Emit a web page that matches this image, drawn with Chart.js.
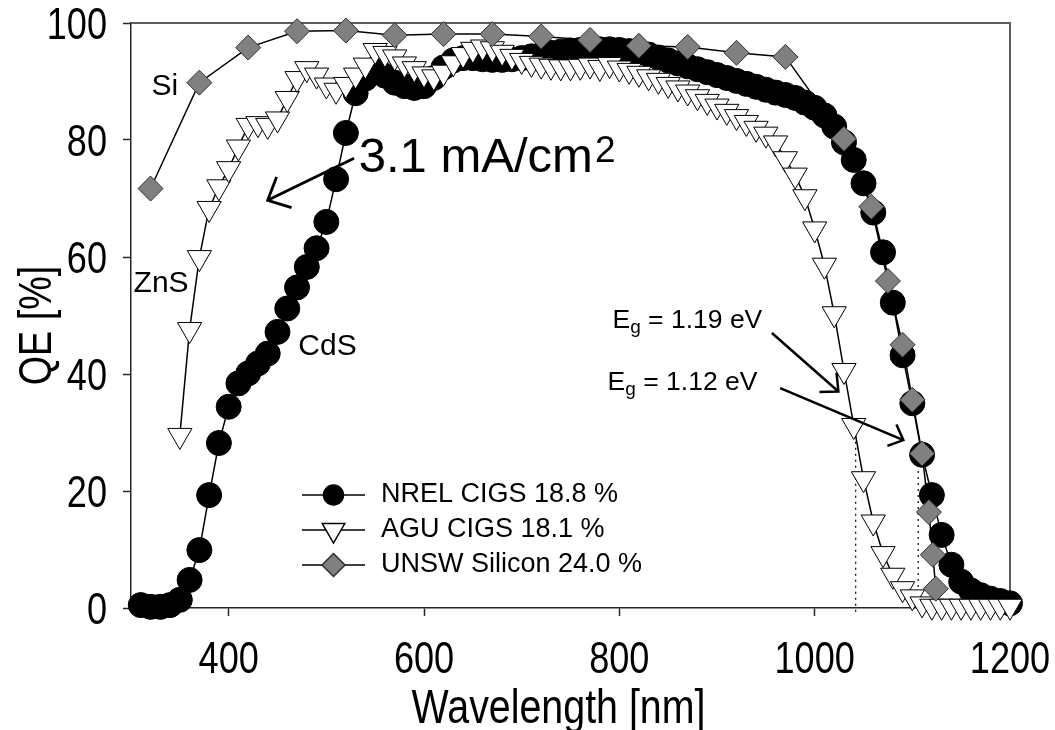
<!DOCTYPE html>
<html>
<head>
<meta charset="utf-8">
<title>QE vs wavelength</title>
<script src="https://cdn.jsdelivr.net/npm/chart.js@4/dist/chart.umd.min.js"></script>
<style>
  html, body { margin: 0; padding: 0; background: #fff; }
  #wrap { width: 1055px; height: 730px; }
</style>
</head>
<body>
<div id="wrap"><canvas id="qe" width="1055" height="730"></canvas></div>
<script>
// quantum efficiency curves, wavelength in nm, QE in %
const nrelWavelength = [310,320,330,340,350,360,370,380,390,400,410,420,430,440,450,460,470,480,490,500,
  510,520,530,540,550,560,570,580,590,600,610,620,630,640,650,660,670,680,690,700,
  710,720,730,740,750,760,770,780,790,800,810,820,830,840,850,860,870,880,890,900,
  910,920,930,940,950,960,970,980,990,1000,1010,1020,1030,1040,1050,1060,1070,1080,1090,1100,
  1110,1120,1130,1140,1150,1160,1170,1180,1190,1200];
const nrelQE = [0.5,0.2,0.2,0.5,1.4,4.8,9.9,19.3,28.2,34.4,38.4,40.1,41.8,43.5,47.2,51.2,54.8,58.3,61.5,66.0,
  73.3,81.2,88.0,90.5,91.8,91.0,89.8,89.2,88.9,89.2,90.6,92.4,93.6,94.0,94.0,93.8,93.7,93.7,93.8,94.0,
  94.3,94.6,94.9,95.1,95.3,95.4,95.5,95.5,95.5,95.4,95.2,95.0,94.6,94.1,93.6,93.1,92.6,92.1,91.6,91.1,
  90.6,90.1,89.6,89.1,88.6,88.1,87.7,87.2,86.4,85.5,84.2,82.3,79.6,76.6,72.6,67.6,60.8,52.2,43.2,35.0,
  26.2,19.3,12.5,7.4,4.5,3.0,2.2,1.6,1.2,0.8];

const aguWavelength = [350,360,370,380,390,400,410,420,430,440,450,460,470,480,490,500,510,520,530,540,
  550,560,570,580,590,600,610,620,630,640,650,660,670,680,690,700,710,720,730,740,
  750,760,770,780,790,800,810,820,830,840,850,860,870,880,890,900,910,920,930,940,
  950,960,970,980,990,1000,1010,1020,1030,1040,1050,1060,1070,1080,1090,1100,1110,1120,1130,1140,
  1150,1160,1170,1180,1190,1200];
const aguQE = [29.5,47.6,59.9,68.3,72.0,75.1,78.8,82.5,82.8,82.5,83.6,87.1,90.5,92.2,91.1,89.4,88.5,89.5,91.1,92.8,
  95.3,94.8,94.2,93.0,92.2,91.3,90.8,91.6,93.2,94.6,95.5,95.9,95.6,95.0,94.3,93.6,93.1,92.8,92.6,92.5,
  92.5,92.6,92.8,92.4,92.9,92.3,91.9,91.4,90.8,90.2,89.5,88.9,88.2,87.4,86.6,85.8,84.9,84.0,83.0,82.0,
  81.0,79.5,76.8,74.0,70.3,64.8,58.6,50.3,40.6,31.2,22.1,14.7,9.3,5.6,3.3,1.9,0.7,0.3,0.3,0.3,
  0.3,0.3,0.3,0.3,0.3,0.3];

const unswWavelength = [320,370,420,470,520,570,620,670,720,770,820,870,920,970,
  1030,1058,1075,1090,1100,1110,1117,1121,1124];
const unswQE = [71.7,89.8,95.8,98.6,98.7,97.9,98.1,98.1,97.7,97.1,96.1,95.9,94.9,94.2,
  80.2,68.6,55.9,45.0,35.6,26.4,16.4,9.1,3.3];

const legendLabels = ['NREL CIGS 18.8 %', 'AGU CIGS 18.1 %', 'UNSW Silicon 24.0 %'];
const xTickValues = [400, 600, 800, 1000, 1200];
const yTickValues = [0, 20, 40, 60, 80, 100];
const xTitle = 'Wavelength [nm]';
const yTitle = 'QE [%]';

// band-gap cut-offs (nm) and the QE where the dotted drop line starts
const gapLines = [[1042, 31.5], [1106, 26.5]];

const textFont = "'Liberation Sans', Arial, sans-serif";
const NARROW = 0.82; // axis lettering is a condensed face

function points(xs, ys) {
  return xs.map((x, i) => ({ x, y: ys[i] }));
}

const seriesStyle = [
  { pointStyle: 'circle', pointRadius: 12.5, pointRotation: 0, pointBackgroundColor: '#000', pointBorderColor: '#000', legendRadius: 10 },
  { pointStyle: 'triangle', pointRadius: 14, pointRotation: 180, pointBackgroundColor: '#fff', pointBorderColor: '#000', legendRadius: 13 },
  { pointStyle: 'rectRot', pointRadius: 12.5, pointRotation: 0, pointBackgroundColor: '#808080', pointBorderColor: '#303030', legendRadius: 11.5 }
];

// condensed text: squeeze horizontally around the anchor
function narrowText(ctx, text, x, y, align, rot) {
  ctx.save();
  ctx.translate(x, y);
  if (rot) ctx.rotate(rot);
  ctx.scale(NARROW, 1);
  ctx.textAlign = align;
  ctx.textBaseline = 'alphabetic';
  ctx.fillText(text, 0, 0);
  ctx.restore();
}

// open "V" arrow head
function arrow(ctx, x0, y0, x1, y1, head, width) {
  const a = Math.atan2(y0 - y1, x0 - x1);
  const spread = 43 * Math.PI / 180;
  ctx.lineWidth = width;
  ctx.beginPath();
  ctx.moveTo(x0, y0);
  ctx.lineTo(x1, y1);
  ctx.moveTo(x1 + Math.cos(a - spread) * head, y1 + Math.sin(a - spread) * head);
  ctx.lineTo(x1, y1);
  ctx.lineTo(x1 + Math.cos(a + spread) * head, y1 + Math.sin(a + spread) * head);
  ctx.stroke();
}

function gapLabel(ctx, text, x, y) {
  ctx.textAlign = 'left';
  ctx.textBaseline = 'middle';
  ctx.font = '26.5px ' + textFont;
  ctx.fillText('E', x, y);
  x += ctx.measureText('E').width;
  ctx.font = '19px ' + textFont;
  ctx.fillText('g', x, y + 7);
  x += ctx.measureText('g').width;
  ctx.font = '26.5px ' + textFont;
  ctx.fillText(text, x, y);
}

const overlay = {
  id: 'overlay',
  beforeDatasetsDraw(chart) {
    const { ctx, chartArea: a, scales: { x, y } } = chart;
    ctx.save();
    // frame on top and right
    ctx.strokeStyle = '#5c5c5c';
    ctx.lineWidth = 2;
    ctx.beginPath();
    ctx.moveTo(a.left, a.top);
    ctx.lineTo(a.right, a.top);
    ctx.lineTo(a.right, a.bottom);
    ctx.stroke();

    // dotted drop lines at the band gaps
    ctx.strokeStyle = '#000';
    ctx.lineWidth = 1.2;
    ctx.setLineDash([2, 4]);
    gapLines.forEach(([w, q]) => {
      ctx.beginPath();
      ctx.moveTo(x.getPixelForValue(w), y.getPixelForValue(q));
      ctx.lineTo(x.getPixelForValue(w), a.bottom + 6);
      ctx.stroke();
    });
    ctx.setLineDash([]);

    // axis numbers and titles
    ctx.fillStyle = '#000';
    ctx.font = '44px ' + textFont;
    x.ticks.forEach(t => narrowText(ctx, String(t.value), x.getPixelForValue(t.value), a.bottom + 65, 'center'));
    y.ticks.forEach(t => narrowText(ctx, String(t.value), a.left - 24, y.getPixelForValue(t.value) + 16, 'right'));
    ctx.font = '48px ' + textFont;
    narrowText(ctx, xTitle, (a.left + a.right) / 2 - 12, 723, 'center');
    ctx.font = '46px ' + textFont;
    narrowText(ctx, yTitle, 51, (a.top + a.bottom) / 2 + 10, 'center', -Math.PI / 2);
    ctx.restore();
  },
  afterDatasetsDraw(chart) {
    const { ctx, scales: { x, y } } = chart;
    const px = v => x.getPixelForValue(v);
    const py = v => y.getPixelForValue(v);
    ctx.save();
    ctx.fillStyle = '#000';
    ctx.strokeStyle = '#000';

    // material labels
    ctx.font = '30px ' + textFont;
    ctx.textAlign = 'center';
    ctx.textBaseline = 'middle';
    ctx.fillText('Si', px(334.6), py(89.1));
    ctx.fillText('ZnS', px(330.8), py(55.4));
    ctx.fillText('CdS', px(501.2), py(44.7));

    // extra current from the thin buffer layer
    ctx.textAlign = 'left';
    ctx.textBaseline = 'alphabetic';
    ctx.font = '49px ' + textFont;
    const tx = px(533.2), ty = py(74.5);
    ctx.fillText('3.1 mA/cm', tx, ty);
    const tw = ctx.measureText('3.1 mA/cm').width;
    ctx.font = '37px ' + textFont;
    ctx.fillText('2', tx + tw + 2, ty - 10);
    arrow(ctx, px(528.4), py(76.9), px(439.9), py(69.7), 25, 2.8);

    // band-gap labels
    gapLabel(ctx, ' = 1.19 eV', px(793), py(49.1));
    gapLabel(ctx, ' = 1.12 eV', px(788), py(38.5));
    arrow(ctx, px(956.2), py(47.0), px(1024.3), py(37.0), 19, 2.5);
    arrow(ctx, px(964.7), py(37.6), px(1090.8), py(28.7), 17, 2.5);

    // legend: line with marker, then label
    const rows = [495, 530, 565];
    chart.data.datasets.forEach((ds, i) => {
      const st = seriesStyle[i];
      const ry = rows[i];
      ctx.lineWidth = 1.5;
      ctx.strokeStyle = '#000';
      ctx.beginPath();
      ctx.moveTo(302, ry);
      ctx.lineTo(365, ry);
      ctx.stroke();
      ctx.fillStyle = st.pointBackgroundColor;
      ctx.strokeStyle = st.pointBorderColor;
      Chart.helpers.drawPoint(ctx, {
        pointStyle: st.pointStyle, radius: st.legendRadius, rotation: st.pointRotation, borderWidth: 1
      }, 333.5, ry);
      ctx.fillStyle = '#000';
      ctx.font = '27px ' + textFont;
      ctx.textAlign = 'left';
      ctx.textBaseline = 'middle';
      ctx.fillText(ds.label, 381, ry);
    });
    ctx.restore();
  }
};

const sets = [
  [nrelWavelength, nrelQE, 3],
  [aguWavelength, aguQE, 2],
  [unswWavelength, unswQE, 1]
].map(([xs, ys, order], i) => Object.assign({
  label: legendLabels[i],
  data: points(xs, ys),
  borderColor: '#000',
  borderWidth: 1.5,
  pointBorderWidth: 1,
  tension: 0,
  fill: false,
  clip: false,
  order
}, seriesStyle[i]));

// fixed axis boxes, no label overhang padding
function fixBox(size, horizontal) {
  return s => {
    if (horizontal) s.height = size; else s.width = size;
    s.paddingTop = s.paddingBottom = s.paddingLeft = s.paddingRight = 0;
  };
}

const axisGrid = { display: true, drawOnChartArea: false, drawTicks: true, tickLength: 8, tickColor: '#262626', tickWidth: 1.5 };
const axisBorder = { display: true, color: '#262626', width: 1.5 };

new Chart(document.getElementById('qe'), {
  type: 'line',
  data: { datasets: sets },
  options: {
    responsive: false,
    animation: false,
    devicePixelRatio: 1,
    layout: { padding: { left: 12, right: 45, top: 23, bottom: 0 } },
    plugins: { legend: { display: false }, tooltip: { enabled: false } },
    scales: {
      x: {
        type: 'linear',
        min: 300,
        max: 1200,
        afterBuildTicks: s => { s.ticks = xTickValues.map(v => ({ value: v })); },
        afterFit: fixBox(122, true),
        grid: axisGrid,
        border: axisBorder,
        ticks: { display: false }
      },
      y: {
        type: 'linear',
        min: 0,
        max: 100,
        afterBuildTicks: s => { s.ticks = yTickValues.map(v => ({ value: v })); },
        afterFit: fixBox(119, false),
        grid: axisGrid,
        border: axisBorder,
        ticks: { display: false }
      }
    }
  },
  plugins: [overlay]
});
</script>
</body>
</html>
